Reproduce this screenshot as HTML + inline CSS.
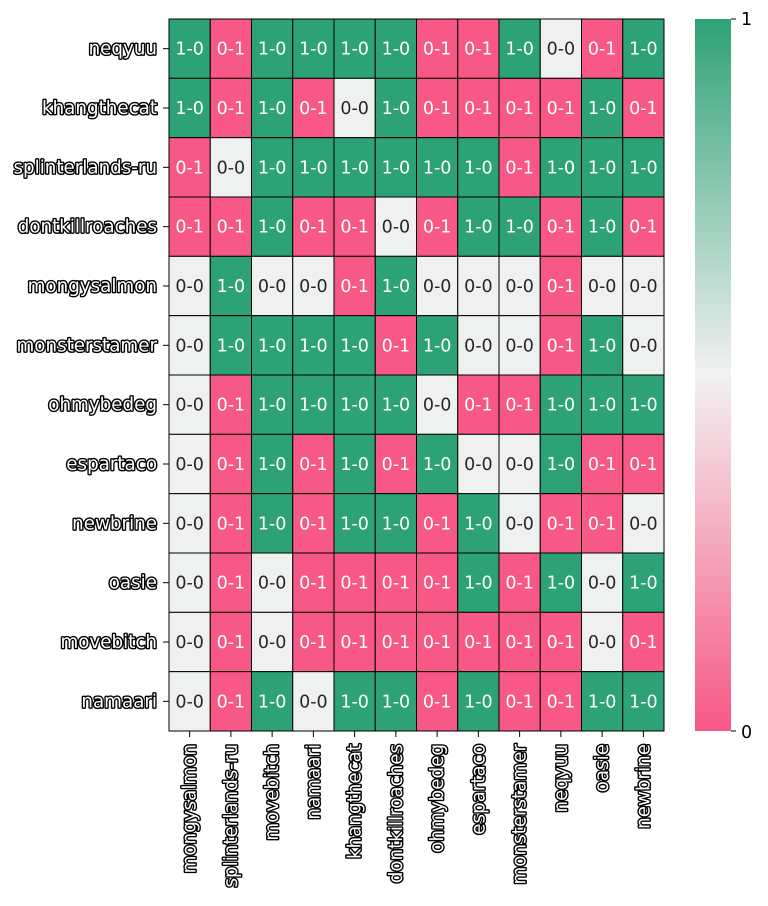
<!DOCTYPE html>
<html><head><meta charset="utf-8"><style>
body{margin:0;background:#fff;}
svg text{font-family:"DejaVu Sans","Liberation Sans",sans-serif;}
.lbl{font-size:18.3px;fill:#fff;stroke:#000;stroke-width:2.8px;paint-order:stroke;stroke-linejoin:round;}
.cv{font-size:17.5px;}
</style></head><body>
<svg id="s" width="768" height="901" xmlns="http://www.w3.org/2000/svg">
<defs><linearGradient id="g" x1="0" y1="0" x2="0" y2="1">
<stop offset="0" stop-color="#2ea277"/><stop offset="0.5" stop-color="#f2f1f1"/><stop offset="1" stop-color="#f75885"/>
</linearGradient></defs>
<rect x="695" y="19" width="36" height="712" fill="url(#g)"/>
<line x1="731" y1="19" x2="736" y2="19" stroke="#000"/>
<line x1="731" y1="731" x2="736" y2="731" stroke="#000"/>
<text x="741" y="25" font-size="17.5">1</text>
<text x="741" y="738" font-size="17.5">0</text>
</svg>
<script>
const rows=["neqyuu","khangthecat","splinterlands-ru","dontkillroaches","mongysalmon","monsterstamer","ohmybedeg","espartaco","newbrine","oasie","movebitch","namaari"];
const cols=["mongysalmon","splinterlands-ru","movebitch","namaari","khangthecat","dontkillroaches","ohmybedeg","espartaco","monsterstamer","neqyuu","oasie","newbrine"];
const d=[[1,-1,1,1,1,1,-1,-1,1,0,-1,1],[1,-1,1,-1,0,1,-1,-1,-1,-1,1,-1],[-1,0,1,1,1,1,1,1,-1,1,1,1],[-1,-1,1,-1,-1,0,-1,1,1,-1,1,-1],[0,1,0,0,-1,1,0,0,0,-1,0,0],[0,1,1,1,1,-1,1,0,0,-1,1,0],[0,-1,1,1,1,1,0,-1,-1,1,1,1],[0,-1,1,-1,1,-1,1,0,0,1,-1,-1],[0,-1,1,-1,1,1,-1,1,0,-1,-1,0],[0,-1,0,-1,-1,-1,-1,1,-1,1,0,1],[0,-1,0,-1,-1,-1,-1,-1,-1,-1,0,-1],[0,-1,1,0,1,1,-1,1,-1,-1,1,1]];
const X0=169,Y0=19,W=(664-169)/12,H=(731-19)/12;
let h="";
for(let r=0;r<12;r++){for(let c=0;c<12;c++){const v=d[r][c];const col=v==1?"#2ea277":v==-1?"#f75885":"#eef1ef";const x=X0+c*W,y=Y0+r*H;
h+=`<rect x="${x}" y="${y}" width="${W}" height="${H}" fill="${col}" stroke="#000" stroke-width="1"/>`;
h+=`<text class="cv" x="${x+W/2}" y="${y+H/2+6}" text-anchor="middle" fill="${v==0?'#262626':'#fff'}">${v==1?'1-0':v==-1?'0-1':'0-0'}</text>`;}
const y=Y0+r*H+H/2;h+=`<line x1="163" y1="${y}" x2="169" y2="${y}" stroke="#000"/><text class="lbl" x="157" y="${y+6}" text-anchor="end">${rows[r]}</text>`;}
for(let c=0;c<12;c++){const x=X0+c*W+W/2;h+=`<line x1="${x}" y1="731" x2="${x}" y2="737" stroke="#000"/><text class="lbl" transform="translate(${x+6},744) rotate(-90)" text-anchor="end">${cols[c]}</text>`;}
document.getElementById("s").insertAdjacentHTML("beforeend",h);
</script>
</body></html>
